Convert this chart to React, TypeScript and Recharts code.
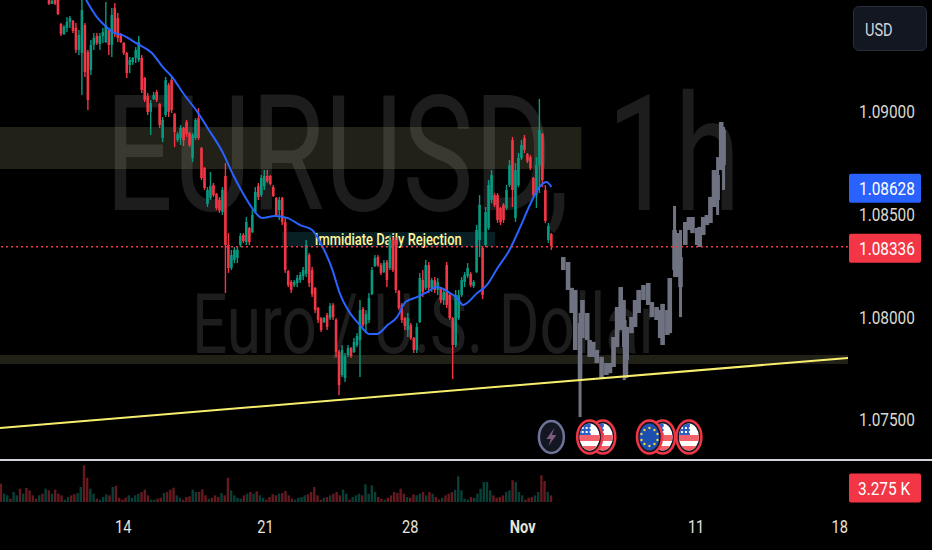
import React from "react";
import { Bar, ComposedChart, Line, ReferenceArea, ReferenceDot, ReferenceLine, XAxis, YAxis } from "recharts";

const candleStartHour = 41;
const candleStepHours = 2.5;

const highs = [
  1.09545,1.09545,1.09545,1.09545,1.09433,1.09423,1.09462,1.09467,1.09448,1.09433,
  1.09399,1.09545,1.09433,1.09302,1.09350,1.09384,1.09384,1.09384,1.09409,1.09535,
  1.09409,1.09506,1.09530,1.09482,1.09384,1.09340,1.09292,1.09267,1.09267,1.09316,
  1.09370,1.09277,1.09170,1.09092,1.09058,1.09097,1.09107,1.09043,1.08975,1.09170,
  1.09141,1.09170,1.08995,1.08902,1.08936,1.08927,1.08961,1.08902,1.08897,1.08970,
  1.09019,1.08829,1.08732,1.08634,1.08707,1.08654,1.08605,1.08586,1.08634,1.08751,
  1.08410,1.08328,1.08342,1.08342,1.08410,1.08410,1.08488,1.08440,1.08522,1.08634,
  1.08654,1.08693,1.08717,1.08717,1.08693,1.08644,1.08586,1.08586,1.08586,1.08488,
  1.08230,1.08181,1.08181,1.08206,1.08220,1.08245,1.08376,1.08313,1.08245,1.08147,
  1.08050,1.08001,1.08001,1.08021,1.08069,1.08069,1.07996,1.07841,1.07865,1.07826,
  1.07865,1.07855,1.07899,1.07923,1.08084,1.08050,1.08035,1.08118,1.08245,1.08303,
  1.08303,1.08264,1.08279,1.08279,1.08401,1.08391,1.08391,1.08133,1.08069,1.08001,
  1.08021,1.07972,1.07904,1.07972,1.08216,1.08230,1.08279,1.08269,1.08191,1.08196,
  1.08191,1.08147,1.08143,1.08269,1.08118,1.08001,1.08133,1.08133,1.08196,1.08220,
  1.08264,1.08220,1.08181,1.08449,1.08595,1.08342,1.08537,1.08668,1.08717,1.08605,
  1.08605,1.08537,1.08556,1.08644,1.08766,1.08878,1.08751,1.08800,1.08863,1.08888,
  1.08800,1.08790,1.08683,1.08780,1.09063,1.08897,1.08644,1.08459,1.08410,
];
const lows = [
  1.09521,1.09526,1.09521,1.09472,1.09370,1.09375,1.09389,1.09409,1.09384,1.09287,
  1.09277,1.09082,1.09170,1.09009,1.09180,1.09302,1.09326,1.09302,1.09336,1.09336,
  1.09277,1.09267,1.09365,1.09340,1.09336,1.09277,1.09165,1.09189,1.09229,1.09238,
  1.09243,1.09092,1.09048,1.08985,1.08888,1.09058,1.09048,1.08922,1.08853,1.08975,
  1.08975,1.08995,1.08829,1.08853,1.08839,1.08834,1.08878,1.08829,1.08756,1.08863,
  1.08863,1.08668,1.08620,1.08537,1.08571,1.08586,1.08522,1.08508,1.08498,1.08118,
  1.08216,1.08230,1.08264,1.08264,1.08342,1.08362,1.08352,1.08352,1.08410,1.08508,
  1.08571,1.08586,1.08620,1.08654,1.08644,1.08586,1.08488,1.08474,1.08449,1.08216,
  1.08147,1.08118,1.08147,1.08147,1.08167,1.08181,1.08196,1.08147,1.08099,1.08021,
  1.07972,1.07928,1.07972,1.07938,1.07987,1.07987,1.07807,1.07621,1.07709,1.07685,
  1.07807,1.07802,1.07826,1.07855,1.07709,1.07953,1.07923,1.07972,1.08108,1.08245,
  1.08245,1.08206,1.08216,1.08147,1.08230,1.08220,1.08118,1.08035,1.07972,1.07938,
  1.07904,1.07889,1.07826,1.07826,1.07972,1.08099,1.08133,1.08118,1.08123,1.08118,
  1.08108,1.08069,1.08060,1.08045,1.07987,1.07699,1.07855,1.07987,1.08099,1.08147,
  1.08191,1.08147,1.08143,1.08216,1.08293,1.08089,1.08342,1.08425,1.08556,1.08537,
  1.08459,1.08449,1.08459,1.08522,1.08634,1.08537,1.08464,1.08634,1.08766,1.08800,
  1.08751,1.08717,1.08586,1.08532,1.08605,1.08634,1.08459,1.08362,1.08328,
];
const opens = [
  1.09545,1.09526,1.09545,1.09545,1.09428,1.09379,1.09409,1.09438,1.09443,1.09409,
  1.09302,1.09287,1.09423,1.09292,1.09204,1.09326,1.09370,1.09331,1.09370,1.09340,
  1.09399,1.09326,1.09506,1.09457,1.09379,1.09336,1.09287,1.09229,1.09243,1.09263,
  1.09253,1.09263,1.09165,1.09077,1.09000,1.09063,1.09097,1.09039,1.08873,1.08985,
  1.09131,1.09155,1.08990,1.08863,1.08873,1.08922,1.08951,1.08897,1.08776,1.08873,
  1.08970,1.08824,1.08727,1.08552,1.08581,1.08644,1.08600,1.08571,1.08513,1.08688,
  1.08352,1.08240,1.08279,1.08289,1.08352,1.08401,1.08366,1.08435,1.08415,1.08513,
  1.08639,1.08595,1.08639,1.08688,1.08688,1.08634,1.08581,1.08522,1.08581,1.08464,
  1.08225,1.08172,1.08157,1.08167,1.08181,1.08201,1.08211,1.08303,1.08230,1.08143,
  1.08045,1.07996,1.07977,1.08011,1.07996,1.08060,1.07987,1.07831,1.07719,1.07704,
  1.07816,1.07850,1.07831,1.07865,1.07889,1.08040,1.07967,1.07987,1.08113,1.08250,
  1.08293,1.08254,1.08220,1.08269,1.08240,1.08376,1.08376,1.08128,1.08060,1.07996,
  1.07938,1.07962,1.07899,1.07841,1.07977,1.08181,1.08143,1.08254,1.08143,1.08181,
  1.08133,1.08143,1.08084,1.08254,1.08108,1.07996,1.07865,1.07996,1.08108,1.08172,
  1.08201,1.08211,1.08152,1.08220,1.08376,1.08337,1.08352,1.08435,1.08571,1.08595,
  1.08595,1.08532,1.08547,1.08532,1.08644,1.08863,1.08484,1.08644,1.08776,1.08873,
  1.08795,1.08780,1.08678,1.08595,1.08741,1.08892,1.08620,1.08376,1.08405,
];
const closes = [
  1.09526,1.09540,1.09526,1.09477,1.09379,1.09414,1.09438,1.09457,1.09394,1.09302,
  1.09375,1.09496,1.09194,1.09058,1.09326,1.09360,1.09336,1.09370,1.09389,1.09423,
  1.09326,1.09472,1.09384,1.09360,1.09340,1.09287,1.09189,1.09253,1.09263,1.09302,
  1.09340,1.09107,1.09058,1.09000,1.09043,1.09082,1.09058,1.08936,1.08961,1.09155,
  1.09000,1.09009,1.08902,1.08892,1.08922,1.08863,1.08892,1.08839,1.08888,1.08961,
  1.08873,1.08678,1.08629,1.08620,1.08639,1.08595,1.08532,1.08522,1.08620,1.08352,
  1.08240,1.08303,1.08328,1.08328,1.08396,1.08371,1.08464,1.08366,1.08498,1.08610,
  1.08586,1.08678,1.08688,1.08663,1.08649,1.08591,1.08498,1.08571,1.08464,1.08230,
  1.08157,1.08133,1.08172,1.08191,1.08206,1.08230,1.08352,1.08167,1.08113,1.08035,
  1.07987,1.07938,1.07996,1.07953,1.08055,1.08001,1.07831,1.07670,1.07841,1.07811,
  1.07850,1.07811,1.07880,1.07909,1.08035,1.07962,1.08016,1.08094,1.08230,1.08289,
  1.08254,1.08216,1.08264,1.08181,1.08376,1.08230,1.08133,1.08045,1.07987,1.07957,
  1.07996,1.07899,1.07841,1.07953,1.08191,1.08123,1.08254,1.08143,1.08181,1.08133,
  1.08172,1.08084,1.08123,1.08060,1.07996,1.07865,1.08108,1.08108,1.08181,1.08206,
  1.08240,1.08157,1.08172,1.08425,1.08547,1.08108,1.08513,1.08644,1.08693,1.08547,
  1.08474,1.08464,1.08474,1.08620,1.08741,1.08620,1.08717,1.08776,1.08839,1.08815,
  1.08761,1.08727,1.08595,1.08741,1.08912,1.08668,1.08469,1.08444,1.08347,
];

// grey projected path pasted after the last real candle
const ghostHours = [471,475,478,481,485,487,491,493,496,499,503,507,510,513,516,519,522,524,528,531,534,538,542,545,549,552,554,558,560,564,566,569,573,576,579,583,585,588,591,594,597,600,603,605];
const ghostHighs = [1.08293,1.08269,1.08143,1.08133,1.08021,1.08084,1.08021,1.07889,1.07880,1.07841,1.07807,1.07777,1.07777,1.07904,1.08050,1.08147,1.08084,1.07953,1.08001,1.08084,1.08133,1.08157,1.08167,1.08074,1.08050,1.08035,1.08065,1.08035,1.08191,1.08542,1.08410,1.08425,1.08464,1.08488,1.08488,1.08435,1.08440,1.08488,1.08498,1.08586,1.08717,1.08780,1.08951,1.08927];
const ghostLows = [1.08230,1.08133,1.08021,1.07841,1.07514,1.07899,1.07889,1.07807,1.07807,1.07777,1.07704,1.07719,1.07728,1.07758,1.07855,1.07938,1.07694,1.07704,1.07923,1.07953,1.08021,1.08084,1.08060,1.08001,1.07987,1.07899,1.07865,1.07914,1.07923,1.08196,1.08196,1.08001,1.08352,1.08425,1.08410,1.08352,1.08342,1.08401,1.08449,1.08459,1.08537,1.08498,1.08717,1.08620];
const ghostOpens = [1.08230,1.08133,1.08021,1.07841,1.07694,1.07899,1.07889,1.07807,1.07807,1.07777,1.07704,1.07719,1.07728,1.07758,1.07855,1.07938,1.07855,1.07792,1.07923,1.07953,1.08021,1.08084,1.08060,1.08001,1.07987,1.07899,1.07865,1.07914,1.07923,1.08230,1.08196,1.08147,1.08352,1.08425,1.08410,1.08352,1.08342,1.08401,1.08449,1.08459,1.08537,1.08571,1.08717,1.08741];
const ghostCloses = [1.08293,1.08269,1.08143,1.08133,1.07972,1.08084,1.08021,1.07889,1.07880,1.07841,1.07807,1.07777,1.07777,1.07904,1.08050,1.08147,1.07987,1.07953,1.08001,1.08084,1.08133,1.08157,1.08167,1.08074,1.08050,1.08035,1.08065,1.08035,1.08191,1.08425,1.08410,1.08293,1.08464,1.08488,1.08488,1.08435,1.08440,1.08488,1.08498,1.08586,1.08717,1.08693,1.08951,1.08912];

const maHours = [72,81,89,96,102,115,127,136,144,153,165,173,186,195,203,212,219,230,240,251,261,268,278,284,291,301,309,315,324,332,339,349,357,365,375,382,387,399,407,416,426,435,443,451,457,461];
const maValues = [1.09545,1.09462,1.09414,1.09384,1.09375,1.09331,1.09287,1.09219,1.09170,1.09092,1.09000,1.08927,1.08805,1.08693,1.08605,1.08522,1.08484,1.08493,1.08484,1.08449,1.08425,1.08362,1.08230,1.08118,1.08035,1.07962,1.07918,1.07918,1.07962,1.08001,1.08074,1.08099,1.08123,1.08147,1.08123,1.08094,1.08060,1.08118,1.08157,1.08240,1.08328,1.08440,1.08547,1.08634,1.08659,1.08634];

const volumes = [
  4.29,1.95,1.56,0.78,2.34,1.56,3.12,1.95,3.28,2.73,1.56,0.78,1.56,1.95,3.12,2.73,1.95,2.89,1.95,1.56,
  0.55,1.17,1.56,1.8,2.1,3.51,8.58,5.69,3.12,1.95,0.78,0.55,1.17,1.8,1.56,3.51,3.74,1,0.55,1,
  1.56,1,1.56,1.95,2.34,2.89,1.56,0.55,0.55,0.78,1,2.1,2.34,2.89,3.35,1.56,1,0.55,1.17,1.33,
  2.89,2.34,2.34,2.96,1.56,0.78,1,1.56,1.17,2.1,1.56,5.69,2.73,1.56,1,0.78,1.56,1.95,2.34,1.95,
  2.5,1.56,1,0.55,1.17,1.8,1.56,1.95,2.1,2.57,1.56,0.78,0.55,1,1.17,1.56,1.8,2.34,3.51,1.56,
  0.55,1,1.17,1.56,1.95,2.34,1.56,2.89,1.95,0.55,1.17,1.56,1.95,1.56,4.13,1.95,3.9,2.34,1.17,0.78,
  0.55,1,1.56,2.34,2.1,3.12,1.95,1.17,1,1.8,1.56,1.95,2.34,1.56,2.34,1.95,1.17,0.55,1,1.56,
  1.95,2.34,2.89,6,2.73,0.78,0.55,1.17,1,1.95,3.12,4.68,4.68,2.73,1.56,1,1.17,1.56,2.34,2.73,
  5.07,4.68,2.34,1.56,0.55,1,1.17,1.56,2.34,6.24,4.91,2.34,1.56,
];
const earlyVolumeUp = [false,true,true,false,true,true,false,true,false,false,false,false,true,false,true];

const priceTicks = [1.09, 1.08628, 1.085, 1.08336, 1.08, 1.075];
const priceTags: Record<string, string> = { "1.08628": "#2962ff", "1.08336": "#f23645" };
const lastPrice = 1.08344;
const volumeTag = 3.275;

const dayHours = [103, 222, 343, 437, 582, 702];
const dayLabels = ["14", "21", "28", "Nov", "11", "18"];

const upperZone = { from: 0, to: 486, top: 1.08926, bottom: 1.08722 };
const lowerZone = { from: 0, to: 709, top: 1.07816, bottom: 1.07772 };
const rejectionZone = { from: 236, to: 414, top: 1.08415, bottom: 1.08343 };
const trendStart = { x: 0, y: 1.07461 };
const trendEnd = { x: 709, y: 1.07802 };

const eventHours = [504, 493, 461, 554, 543, 576];
const eventKinds = ["us", "us", "bolt", "us", "eu", "us"];
const eventPrice = 1.07417;

const RED = "#f23645";
const GREEN = "#089981";
const GHOST = "#6f7280";
const FONT = "Roboto, sans-serif";
const hoursDomain: [number, number] = [0, 709];

const rows: any[] = [
  ...highs.map((h, i) => ({
    hour: candleStartHour + i * candleStepHours,
    range: [lows[i], h],
    high: h,
    low: lows[i],
    open: opens[i],
    close: closes[i],
    color: closes[i] >= opens[i] ? GREEN : RED,
    bodyWidth: 2.6,
    wickWidth: 1.4,
  })),
  ...ghostHours.map((hour, i) => ({
    hour,
    range: [ghostLows[i], ghostHighs[i]],
    high: ghostHighs[i],
    low: ghostLows[i],
    open: ghostOpens[i],
    close: ghostCloses[i],
    color: GHOST,
    bodyWidth: 4.6,
    wickWidth: 3,
  })),
];

const maRows = maHours.map((hour, i) => ({ hour, ma: maValues[i] }));

const volumeStep = 460 / (volumes.length - 1);
const volumeRows = volumes.map((volume, i) => {
  const hour = 1 + i * volumeStep;
  const slot = Math.round((hour - candleStartHour) / candleStepHours);
  const up = slot < 0 ? earlyVolumeUp[i % earlyVolumeUp.length] : closes[Math.min(slot, closes.length - 1)] >= opens[Math.min(slot, closes.length - 1)];
  return { hour, volume, up };
});

const Candle = (props: any) => {
  const { x, y, width, height, payload } = props;
  const cx = x + width / 2;
  const top = Math.min(y, y + height);
  const scale = Math.abs(height) / (payload.high - payload.low);
  const bodyTop = top + (payload.high - Math.max(payload.open, payload.close)) * scale;
  const bodyHeight = Math.max(1, Math.abs(payload.open - payload.close) * scale);
  return (
    <g>
      <rect x={cx - payload.wickWidth / 2} y={top} width={payload.wickWidth} height={Math.abs(height)} fill={payload.color} />
      <rect x={cx - payload.bodyWidth / 2} y={bodyTop} width={payload.bodyWidth} height={bodyHeight} fill={payload.color} />
    </g>
  );
};

const VolumeBar = (props: any) => {
  const { x, y, width, height, payload } = props;
  return <rect x={x} y={y} width={width} height={height} fill={payload.up ? "#0a3f37" : "#651a20"} />;
};

const Squeezed = ({ x, y, size, fill, children, weight, anchor, spacing, squeeze = 0.81 }: any) => (
  <text
    transform={`translate(${x} ${y}) scale(${squeeze} 1)`}
    fontFamily={FONT}
    fontSize={size}
    fontWeight={weight || 400}
    fill={fill}
    textAnchor={anchor || "start"}
    wordSpacing={spacing}
  >
    {children}
  </text>
);

const PriceTick = ({ x, y, payload }: any) => {
  const tag = priceTags[String(payload.value)];
  return (
    <g>
      {tag && <rect x={x - 7} y={y - 14.5} width={72} height={29} rx={2} fill={tag} />}
      <Squeezed x={x + 3} y={y + 6.5} size={19} fill={tag ? "#ffffff" : "#dbd9d0"}>
        {payload.value.toFixed(5)}
      </Squeezed>
    </g>
  );
};

const VolumeTick = ({ x, y, payload }: any) => (
  <g>
    <rect x={x - 7} y={y - 14.5} width={72} height={29} rx={2} fill={RED} />
    <Squeezed x={x + 2} y={y + 6.5} size={19} fill="#ffffff">
      {payload.value} K
    </Squeezed>
  </g>
);

const DayTick = ({ x, y, index }: any) => {
  const label = dayLabels[index];
  return (
    <Squeezed x={x} y={y + 23} size={18} anchor="middle" fill="#e6e4dc" weight={label === "Nov" ? 700 : 400}>
      {label}
    </Squeezed>
  );
};

const RejectionLabel = ({ viewBox }: any) => (
  <Squeezed x={viewBox.x + viewBox.width / 2 - 0.5} y={viewBox.y + 13} size={17} anchor="middle" fill="#fff59d" weight={500} squeeze={0.76}>
    Immidiate Daily Rejection
  </Squeezed>
);

const EventIcon = ({ cx, cy, kind, id }: any) => {
  if (kind === "bolt") {
    return (
      <g>
        <ellipse cx={cx} cy={cy} rx={12.5} ry={16} fill="#131722" stroke="#6f7397" strokeWidth={2.5} />
        <polygon
          points={`${cx + 3},${cy - 9} ${cx - 5},${cy + 2} ${cx - 0.5},${cy + 2} ${cx - 3},${cy + 9} ${cx + 5},${cy - 2} ${cx + 0.5},${cy - 2}`}
          fill="#7d5a80"
        />
      </g>
    );
  }
  const clip = `event-clip-${id}`;
  return (
    <g>
      <clipPath id={clip}>
        <ellipse cx={cx} cy={cy} rx={10} ry={13.5} />
      </clipPath>
      <ellipse cx={cx} cy={cy} rx={12.5} ry={16.5} fill="#131722" stroke={RED} strokeWidth={2.5} />
      {kind === "eu" ? (
        <g clipPath={`url(#${clip})`}>
          <rect x={cx - 11} y={cy - 14} width={22} height={28} fill="#1c4fb0" />
          {[-8, -5, 0, 5, 8].map((dx, n) => (
            <g key={n}>
              <circle cx={cx + dx} cy={cy - (Math.abs(dx) === 8 ? 3 : Math.abs(dx) === 5 ? 7 : 9)} r={1.2} fill="#f5d33c" />
              <circle cx={cx + dx} cy={cy + (Math.abs(dx) === 8 ? 3 : Math.abs(dx) === 5 ? 7 : 9)} r={1.2} fill="#f5d33c" />
            </g>
          ))}
        </g>
      ) : (
        <g clipPath={`url(#${clip})`}>
          <rect x={cx - 11} y={cy - 14} width={22} height={28} fill="#ffffff" />
          <rect x={cx - 11} y={cy - 2} width={22} height={6} fill="#f2606a" />
          <rect x={cx - 11} y={cy + 9} width={22} height={5} fill="#f2606a" />
          <rect x={cx - 11} y={cy - 14} width={12} height={12} fill="#2a5fc4" />
          {[-8, -4, 0].map((dx) =>
            [-10, -6].map((dy) => <rect key={`${dx}${dy}`} x={cx + dx} y={cy + dy} width={2} height={2} fill="#ffffff" />)
          )}
        </g>
      )}
    </g>
  );
};

const App = () => (
  <div style={{ position: "fixed", left: 0, top: 0, width: 932, height: 550, background: "#000000", overflow: "hidden" }}>
    <svg width={932} height={460} style={{ position: "absolute", left: 0, top: 0 }}>
      <Squeezed x={105} y={210} size={162} fill="#1d1d1d" squeeze={0.74} spacing={10}>
        EURUSD, 1h
      </Squeezed>
      <Squeezed x={192} y={353} size={84} fill="#1d1d1d" squeeze={0.74}>
        Euro / U.S. Dollar
      </Squeezed>
    </svg>
    <div style={{ position: "absolute", left: 0, top: 0 }}>
      <ComposedChart width={932} height={460} data={rows} margin={{ top: 0, right: 0, bottom: 0, left: 0 }}>
        <XAxis dataKey="hour" type="number" domain={hoursDomain} hide allowDataOverflow />
        <YAxis
          orientation="right"
          width={84}
          domain={[1.07305, 1.09545]}
          ticks={priceTicks}
          interval={0}
          axisLine={false}
          tickLine={false}
          allowDataOverflow
          tick={<PriceTick />}
        />
        <ReferenceArea x1={upperZone.from} x2={upperZone.to} y1={upperZone.bottom} y2={upperZone.top} fill="#f0e8a8" fillOpacity={0.14} stroke="none" />
        <ReferenceArea x1={lowerZone.from} x2={lowerZone.to} y1={lowerZone.bottom} y2={lowerZone.top} fill="#f0e8a8" fillOpacity={0.14} stroke="none" />
        <ReferenceLine segment={[trendStart, trendEnd]} stroke="#f7ee6e" strokeWidth={2} />
        <Bar dataKey="range" barSize={4} shape={<Candle />} isAnimationActive={false} />
        <Line data={maRows} dataKey="ma" type="monotone" stroke="#2962ff" strokeWidth={2} dot={false} activeDot={false} isAnimationActive={false} />
        <ReferenceLine y={lastPrice} stroke={RED} strokeWidth={1.5} strokeDasharray="2 3" />
        <ReferenceArea
          x1={rejectionZone.from}
          x2={rejectionZone.to}
          y1={rejectionZone.bottom}
          y2={rejectionZone.top}
          fill="#12464d"
          fillOpacity={0.45}
          stroke="none"
          label={<RejectionLabel />}
        />
        {eventHours.map((hour, i) => (
          <ReferenceDot
            key={i}
            x={hour}
            y={eventPrice}
            shape={(p: any) => <EventIcon cx={p.cx} cy={p.cy} kind={eventKinds[i]} id={i} />}
          />
        ))}
      </ComposedChart>
    </div>
    <div style={{ position: "absolute", left: 0, top: 459, width: 932, height: 2, background: "#d1d4dc" }} />
    <div style={{ position: "absolute", left: 0, top: 462 }}>
      <ComposedChart width={932} height={88} data={volumeRows} margin={{ top: 0, right: 0, bottom: 0, left: 0 }}>
        <XAxis
          dataKey="hour"
          type="number"
          domain={hoursDomain}
          ticks={dayHours}
          interval={0}
          height={48}
          axisLine={false}
          tickLine={false}
          allowDataOverflow
          tick={<DayTick />}
        />
        <YAxis
          orientation="right"
          width={84}
          domain={[0, 9.36]}
          ticks={[volumeTag]}
          interval={0}
          axisLine={false}
          tickLine={false}
          tick={<VolumeTick />}
        />
        <Bar dataKey="volume" barSize={2.4} shape={<VolumeBar />} isAnimationActive={false} />
      </ComposedChart>
    </div>
    <div
      style={{
        position: "absolute",
        left: 853,
        top: 6,
        width: 74,
        height: 45,
        boxSizing: "border-box",
        background: "#131722",
        border: "1px solid #2a2e39",
        borderRadius: 6,
      }}
    >
      <svg width={72} height={43} style={{ display: "block" }}>
        <Squeezed x={11} y={29} size={18} fill="#d1d4dc">
          USD
        </Squeezed>
      </svg>
    </div>
  </div>
);

export default App;
